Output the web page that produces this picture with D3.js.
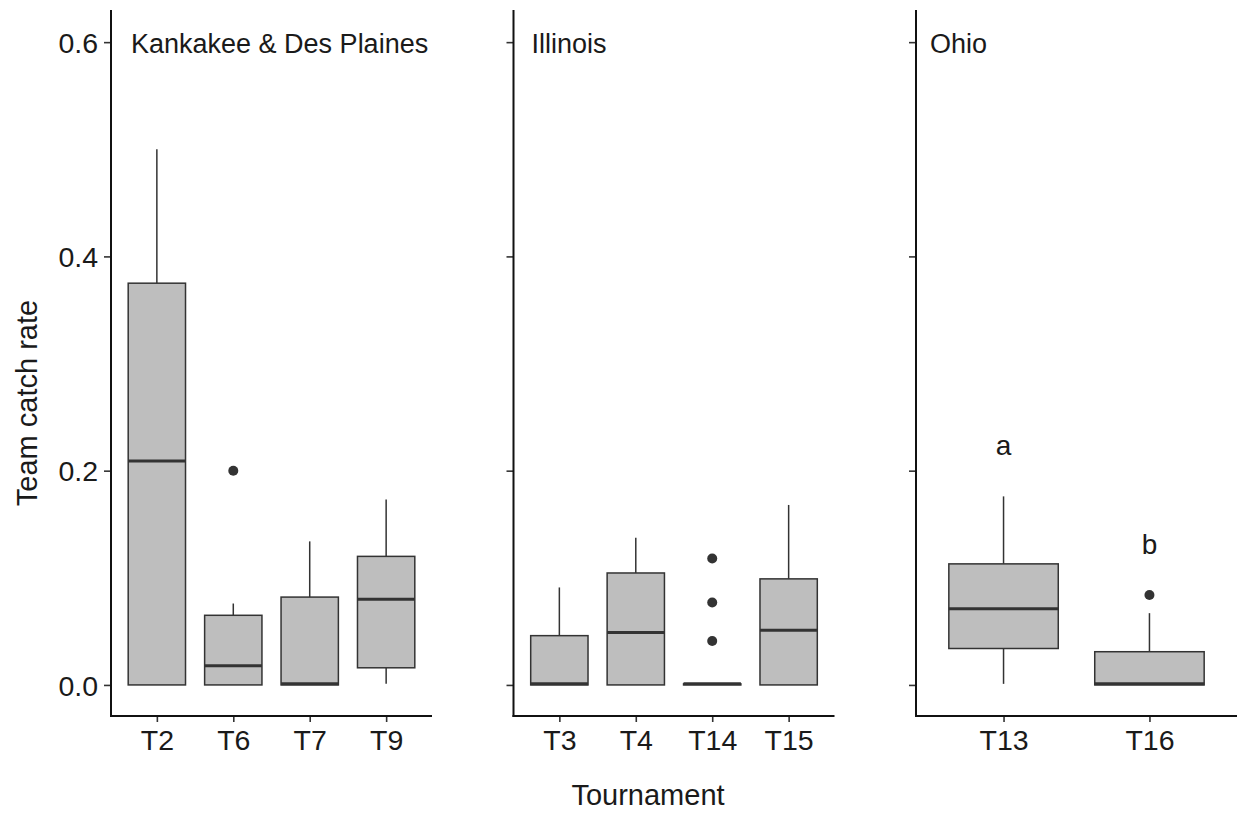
<!DOCTYPE html>
<html>
<head>
<meta charset="utf-8">
<script src="https://cdn.jsdelivr.net/npm/d3@7/dist/d3.min.js"></script>
<style>
    body { margin: 0; background: #fff; }
    text { font-family: "Liberation Sans", Arial, sans-serif; fill: #1a1a1a; }
</style>
</head>
<body>
<div id="chart"></div>
<script>
// DATA
var regions = ["Kankakee & Des Plaines", "Illinois", "Ohio"];
var tournaments = ["T2", "T6", "T7", "T9", "T3", "T4", "T14", "T15", "T13", "T16"];
var regionOf = [0, 0, 0, 0, 1, 1, 1, 1, 2, 2];
var whiskLow = [0, 0, 0, 0.001, 0, 0, 0, 0, 0.001, 0];
var q1 = [0, 0, 0, 0.016, 0, 0, 0, 0, 0.034, 0];
var median = [0.209, 0.018, 0.001, 0.08, 0.001, 0.049, 0.001, 0.051, 0.071, 0.001];
var q3 = [0.375, 0.065, 0.082, 0.120, 0.046, 0.1045, 0.001, 0.099, 0.113, 0.031];
var whiskHigh = [0.5, 0.076, 0.134, 0.173, 0.091, 0.1375, 0, 0.168, 0.176, 0.067];
var outliers = [[], [0.2], [], [], [], [], [0.118, 0.077, 0.041], [], [], [0.084]];
var letters = ["", "", "", "", "", "", "", "", "a", "b"];
var letterAt = [0, 0, 0, 0, 0, 0, 0, 0, 0.215, 0.122];
var yTicks = [0.0, 0.2, 0.4, 0.6];

var width = 1241, height = 813;
var panelLeft = [111, 513.5, 916];
var panelW = 321;
var panelTop = 10, panelBottom = 716;
var stripPad = [20, 18, 14];

var svg = d3.select("#chart").append("svg")
    .attr("width", width)
    .attr("height", height);

var y = d3.scaleLinear().domain([-0.029, 0.63]).range([panelBottom, panelTop]);

regions.forEach(function (name, p) {
    var idx = d3.range(tournaments.length).filter(function (i) { return regionOf[i] === p; });
    var x = d3.scalePoint()
        .domain(idx.map(function (i) { return tournaments[i]; }))
        .range([panelLeft[p], panelLeft[p] + panelW])
        .padding(0.6);
    var boxW = x.step() * 0.75;

    var g = svg.append("g");

    // axes
    var yaxis = g.append("g")
        .attr("transform", "translate(" + panelLeft[p] + ",0)")
        .call(d3.axisLeft(y).tickValues(yTicks).tickSize(7).tickPadding(6)
            .tickFormat(p === 0 ? d3.format(".1f") : function () { return ""; }));
    var xaxis = g.append("g")
        .attr("transform", "translate(0," + panelBottom + ")")
        .call(d3.axisBottom(x).tickSize(6).tickPadding(8));

    [yaxis, xaxis].forEach(function (ax) {
        ax.select(".domain").remove();
        ax.selectAll(".tick line").attr("stroke", "#333").attr("stroke-width", 1.6);
        ax.selectAll(".tick text").style("font-size", "28.5px").attr("fill", "#1a1a1a");
    });
    yaxis.selectAll(".tick text").attr("dy", "0.36em");
    xaxis.selectAll(".tick text").attr("dy", "0.71em");

    g.append("line")
        .attr("x1", panelLeft[p]).attr("x2", panelLeft[p])
        .attr("y1", panelTop).attr("y2", panelBottom + 1)
        .attr("stroke", "#111").attr("stroke-width", 2);
    g.append("line")
        .attr("x1", panelLeft[p] - 1).attr("x2", panelLeft[p] + panelW)
        .attr("y1", panelBottom).attr("y2", panelBottom)
        .attr("stroke", "#111").attr("stroke-width", 2);

    // strip label
    g.append("text")
        .attr("x", panelLeft[p] + stripPad[p])
        .attr("y", 53)
        .style("font-size", "27px")
        .text(name);

    // boxes
    var serie = g.selectAll(".box")
        .data(idx)
        .enter().append("g")
            .attr("class", "box");

    serie.append("line")
        .attr("x1", function (i) { return x(tournaments[i]); })
        .attr("x2", function (i) { return x(tournaments[i]); })
        .attr("y1", function (i) { return y(whiskHigh[i]); })
        .attr("y2", function (i) { return y(q3[i]); })
        .attr("stroke", "#333").attr("stroke-width", 1.5);
    serie.append("line")
        .attr("x1", function (i) { return x(tournaments[i]); })
        .attr("x2", function (i) { return x(tournaments[i]); })
        .attr("y1", function (i) { return y(q1[i]); })
        .attr("y2", function (i) { return y(whiskLow[i]); })
        .attr("stroke", "#333").attr("stroke-width", 1.5);

    serie.append("rect")
        .attr("x", function (i) { return x(tournaments[i]) - boxW / 2; })
        .attr("width", boxW)
        .attr("y", function (i) { return y(q3[i]); })
        .attr("height", function (i) { return Math.max(0, y(q1[i]) - y(q3[i])); })
        .attr("fill", "#bebebe")
        .attr("stroke", "#333").attr("stroke-width", 1.5);

    serie.append("line")
        .attr("x1", function (i) { return x(tournaments[i]) - boxW / 2; })
        .attr("x2", function (i) { return x(tournaments[i]) + boxW / 2; })
        .attr("y1", function (i) { return y(median[i]); })
        .attr("y2", function (i) { return y(median[i]); })
        .attr("stroke", "#333").attr("stroke-width", 3);

    serie.selectAll(".outlier")
        .data(function (i) { return outliers[i].map(function (v) { return { t: tournaments[i], v: v }; }); })
        .enter().append("circle")
            .attr("class", "outlier")
            .attr("cx", function (d) { return x(d.t); })
            .attr("cy", function (d) { return y(d.v); })
            .attr("r", 5)
            .attr("fill", "#333");

    serie.filter(function (i) { return letters[i] !== ""; })
        .append("text")
            .attr("x", function (i) { return x(tournaments[i]); })
            .attr("y", function (i) { return y(letterAt[i]); })
            .attr("text-anchor", "middle")
            .style("font-size", "28px")
            .text(function (i) { return letters[i]; });
});

// axis titles
svg.append("text")
    .attr("x", 648)
    .attr("y", 805)
    .attr("text-anchor", "middle")
    .style("font-size", "29px")
    .text("Tournament");

svg.append("text")
    .attr("transform", "translate(37,403) rotate(-90)")
    .attr("text-anchor", "middle")
    .style("font-size", "29px")
    .text("Team catch rate");
</script>
</body>
</html>
